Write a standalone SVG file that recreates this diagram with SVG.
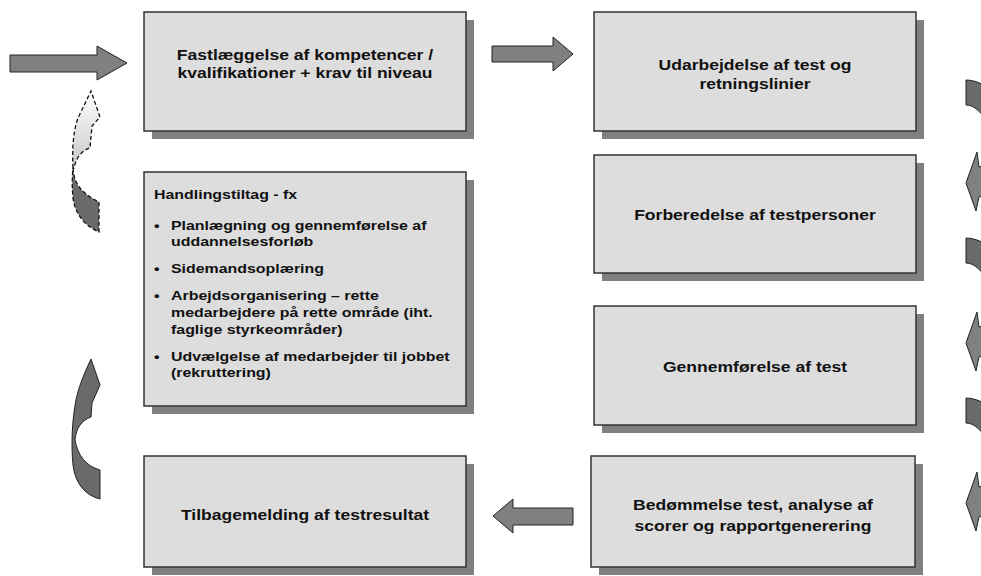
<svg xmlns="http://www.w3.org/2000/svg" width="981" height="576" viewBox="0 0 981 576">
<defs>
<style>
.sh{fill:#808080}
.bx{fill:#dddddd;stroke:#333333;stroke-width:1.5}
.t{font-family:"Liberation Sans",Arial,sans-serif;font-weight:bold;font-size:15px;fill:#111111}
.tc{text-anchor:middle}
.l{font-size:13.5px}
.ar{fill:#808080;stroke:#222222;stroke-width:1}
.dk{fill:#6a6a6a;stroke:#222222;stroke-width:1}
.dash{stroke:#111111;stroke-width:1.3;stroke-dasharray:4 2.5}
</style>
<linearGradient id="gLight" x1="0" y1="0" x2="0" y2="1">
<stop offset="0" stop-color="#ffffff"/>
<stop offset="1" stop-color="#c8c8c8"/>
</linearGradient>
<linearGradient id="gSolid" x1="0" y1="0" x2="0" y2="1">
<stop offset="0" stop-color="#8c8c8c"/>
<stop offset="1" stop-color="#6a6a6a"/>
</linearGradient>
<g id="rDark"><path class="dk" d="M966,0 C972,0 978,2 984,5 L984,37 C978,29 972,25 966,25 Z"/></g>
<g id="rLight"><path class="ar" d="M977,0 L979,15 L984,14 L984,43 L979,45 L976,59 L966,31 Z"/></g>
</defs>

<g id="connectors">
<path class="ar" d="M10,55 L97,55 L97,46 L127,63 L97,80 L97,72 L10,72 Z"/>
<path class="ar" d="M492,46 L553,46 L553,37 L573,54 L553,71 L553,62 L492,62 Z"/>
<path class="ar" d="M573,508 L513,508 L513,499 L493,516 L513,533 L513,525 L573,525 Z"/>
<g id="dashedCurve">
<path class="dash" fill="#6a6a6a" d="M73,168 C74,182 79,192 99,202 L99,232 C85,226 75,214 73,198 C72,188 72,178 73,168 Z"/>
<path class="dash" fill="url(#gLight)" d="M73,168 C72,150 73,132 78,118 L91,91 L100,117 L92,126 L90,148 C82,150 76,158 74,168 Z"/>
</g>
<g id="solidCurve">
<path class="dk" fill="url(#gSolid)" d="M91,359 L100,385 L92,403 L91,417 C82,420 76,428 75,440 C78,456 86,466 100,470 L100,499 C84,495 75,482 73,465 C71,445 72,420 76,400 C78,390 82,378 91,359 Z"/>
</g>
<use href="#rDark" y="80"/>
<use href="#rLight" y="152"/>
<use href="#rDark" y="238"/>
<use href="#rLight" y="312"/>
<use href="#rDark" y="398"/>
<use href="#rLight" y="472"/>
</g>

<g id="n1">
<rect class="sh" x="152" y="20" width="322" height="119"/>
<rect class="bx" x="144" y="12" width="322" height="119"/>
<g transform="translate(305,0) scale(1.17,1)">
<text class="t tc" x="0" y="60">Fastlæggelse af kompetencer /</text>
<text class="t tc" x="0" y="78">kvalifikationer + krav til niveau</text>
</g>
</g>

<g id="n2">
<rect class="sh" x="602" y="20" width="322" height="119"/>
<rect class="bx" x="594" y="12" width="322" height="119"/>
<g transform="translate(755,0) scale(1.17,1)">
<text class="t tc" x="0" y="70">Udarbejdelse af test og</text>
<text class="t tc" x="0" y="89">retningslinier</text>
</g>
</g>

<g id="n3">
<rect class="sh" x="602" y="163" width="322" height="118"/>
<rect class="bx" x="594" y="155" width="322" height="118"/>
<g transform="translate(755,0) scale(1.17,1)">
<text class="t tc" x="0" y="220">Forberedelse af testpersoner</text>
</g>
</g>

<g id="n4">
<rect class="sh" x="602" y="314" width="322" height="119"/>
<rect class="bx" x="594" y="306" width="322" height="119"/>
<g transform="translate(755,0) scale(1.17,1)">
<text class="t tc" x="0" y="372">Gennemførelse af test</text>
</g>
</g>

<g id="n5">
<rect class="sh" x="599" y="464" width="324" height="111"/>
<rect class="bx" x="591" y="456" width="324" height="111"/>
<g transform="translate(753,0) scale(1.17,1)">
<text class="t tc" x="0" y="510">Bedømmelse test, analyse af</text>
<text class="t tc" x="0" y="531">scorer og rapportgenerering</text>
</g>
</g>

<g id="n6">
<rect class="sh" x="152" y="180" width="322" height="234"/>
<rect class="bx" x="144" y="172" width="322" height="234"/>
<g transform="translate(154,0) scale(1.18,1)" class="t l">
<text x="0" y="199">Handlingstiltag - fx</text>
<text x="0" y="230">•</text><text x="14.4" y="230">Planlægning og gennemførelse af</text>
<text x="14.4" y="246">uddannelsesforløb</text>
<text x="0" y="273">•</text><text x="14.4" y="273">Sidemandsoplæring</text>
<text x="0" y="300">•</text><text x="14.4" y="300">Arbejdsorganisering – rette</text>
<text x="14.4" y="317">medarbejdere på rette område (iht.</text>
<text x="14.4" y="334">faglige styrkeområder)</text>
<text x="0" y="361">•</text><text x="14.4" y="361">Udvælgelse af medarbejder til jobbet</text>
<text x="14.4" y="377">(rekruttering)</text>
</g>
</g>

<g id="n7">
<rect class="sh" x="152" y="464" width="322" height="111"/>
<rect class="bx" x="144" y="456" width="322" height="111"/>
<g transform="translate(305,0) scale(1.17,1)">
<text class="t tc" x="0" y="520">Tilbagemelding af testresultat</text>
</g>
</g>
</svg>
